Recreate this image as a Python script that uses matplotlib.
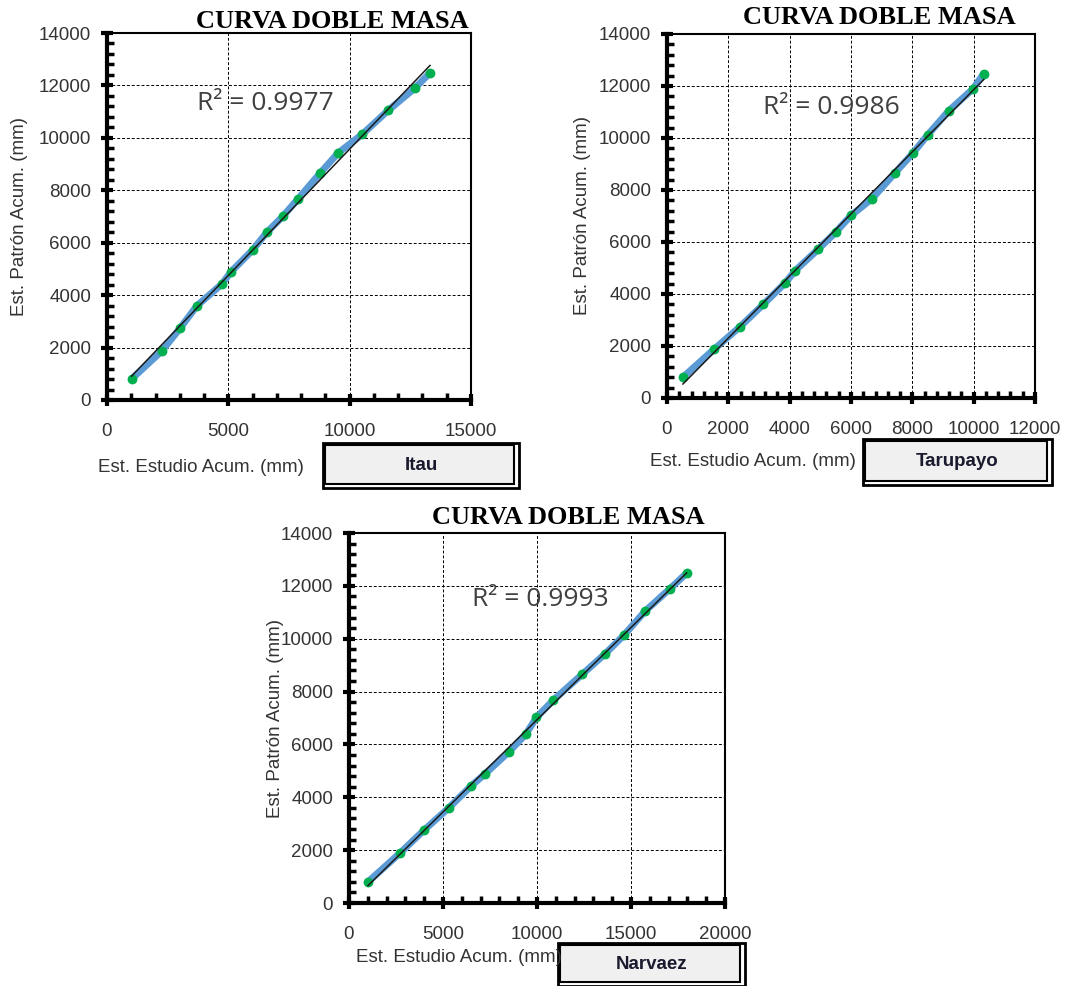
import matplotlib
matplotlib.use('Agg')
import matplotlib.pyplot as plt
import numpy as np
from matplotlib.patches import Rectangle
from matplotlib.ticker import MultipleLocator

W, H = 1068, 986

green = '#00B050'
blue = '#5B9BD5'
gray_text = '#404040'

# Est. Patron acumulado (common to the three charts)
patron = [800, 1880, 2750, 3600, 4420, 4900, 5730, 6390, 7020, 7670,
          8650, 9420, 10130, 11050, 11890, 12480]

# Est. Estudio acumulado for each station
itau = [1010, 2270, 3020, 3710, 4730, 5120, 6010, 6580, 7260, 7870,
        8780, 9520, 10510, 11590, 12680, 13310]
tarupayo = [520, 1540, 2390, 3140, 3850, 4180, 4940, 5510, 6000, 6690,
            7430, 8020, 8510, 9190, 9980, 10330]
narvaez = [1010, 2700, 3980, 5310, 6480, 7260, 8520, 9410, 9970, 10860,
           12400, 13610, 14620, 15760, 17070, 17960]

stations = ['Itau', 'Tarupayo', 'Narvaez']
r2_labels = ['R² = 0.9977', 'R² = 0.9986', 'R² = 0.9993']
xmax = [15000, 12000, 20000]
xmajor = [5000, 2000, 5000]
xminor = [1000, 400, 1000]

# layout in pixels: left, top, right, bottom
axes_px = [(107, 33, 471, 400), (667, 34, 1035, 398), (349, 533, 725, 903)]
box_px = [(323, 443, 519, 488), (863, 439, 1052, 485), (558, 943, 745, 986)]
title_xy = [(332, 22), (879, 18), (568, 517)]
xlabel_xy = [(201, 467), (753, 462), (459, 957)]
ylabel_x = [20, 583, 275]
r2_xy = [(0.247, 0.809), (0.261, 0.797), (0.327, 0.819)]


def fx(px):
    return px / W


def fy(py):
    return 1 - py / H


fig = plt.figure(figsize=(W / 100, H / 100), dpi=100)

for i, xs in enumerate([itau, tarupayo, narvaez]):
    l, t, r, b = axes_px[i]
    ax = fig.add_axes([fx(l), fy(b), (r - l) / W, (b - t) / H])
    x = np.array(xs, dtype=float)
    y = np.array(patron, dtype=float)

    ax.plot(x, y, color=blue, linewidth=5, solid_capstyle='round', zorder=3)
    ax.scatter(x, y, s=50, color=green, zorder=4, linewidths=0)
    k, c = np.polyfit(x, y, 1)
    xl = np.array([x.min(), x.max()])
    ax.plot(xl, k * xl + c, color='#1a1a1a', linewidth=1.1, zorder=5)

    ax.set_xlim(0, xmax[i])
    ax.set_ylim(0, 14000)
    ax.xaxis.set_major_locator(MultipleLocator(xmajor[i]))
    ax.xaxis.set_minor_locator(MultipleLocator(xminor[i]))
    ax.yaxis.set_major_locator(MultipleLocator(2000))
    ax.yaxis.set_minor_locator(MultipleLocator(400))
    ax.grid(True, which='major', color='black', linestyle=(0, (3, 2)),
            linewidth=0.7)
    ax.set_axisbelow(True)

    for s in ['top', 'right']:
        ax.spines[s].set_linewidth(1.5)
    for s in ['left', 'bottom']:
        ax.spines[s].set_linewidth(3)
    ax.tick_params(which='major', direction='inout', length=9, width=3,
                   labelsize=13.5, labelcolor='#333333')
    ax.tick_params(axis='x', which='major', pad=12)
    ax.tick_params(axis='y', which='major', pad=7)
    ax.tick_params(which='minor', direction='in', length=5, width=2.5)
    for lab in ax.get_xticklabels() + ax.get_yticklabels():
        lab.set_family('Liberation Sans')

    ax.text(r2_xy[i][0], r2_xy[i][1], r2_labels[i], transform=ax.transAxes,
            fontsize=19, family='Open Sans', color=gray_text,
            va='center', ha='left', zorder=6)

    tx, ty = title_xy[i]
    fig.text(fx(tx), fy(ty), 'CURVA DOBLE MASA', family='Liberation Serif',
             weight='bold', fontsize=19, ha='center', va='center')
    lx, ly = xlabel_xy[i]
    fig.text(fx(lx), fy(ly), 'Est. Estudio Acum. (mm)',
             family='Liberation Sans', fontsize=13.5, color='#333333',
             ha='center', va='center')
    fig.text(fx(ylabel_x[i]), fy((t + b) / 2), 'Est. Patrón Acum. (mm)',
             family='Liberation Sans', fontsize=13.5, color='#333333',
             rotation=90, ha='center', va='center')

    bl, bt, br, bb = box_px[i]
    fig.patches.append(Rectangle((fx(bl), fy(bb)), (br - bl) / W,
                                 (bb - bt) / H, transform=fig.transFigure,
                                 facecolor='white', edgecolor='black',
                                 linewidth=2))
    fig.patches.append(Rectangle((fx(bl + 2), fy(bb - 4)), (br - bl - 7) / W,
                                 (bb - bt - 6) / H, transform=fig.transFigure,
                                 facecolor='#F0F0F0', edgecolor='black',
                                 linewidth=1.5))
    fig.text(fx((bl + br) / 2), fy((bt + bb) / 2), stations[i],
             family='Liberation Sans', weight='bold', fontsize=13.5,
             color='#1a1a2e', ha='center', va='center')

fig.savefig('out.png', dpi=100)
